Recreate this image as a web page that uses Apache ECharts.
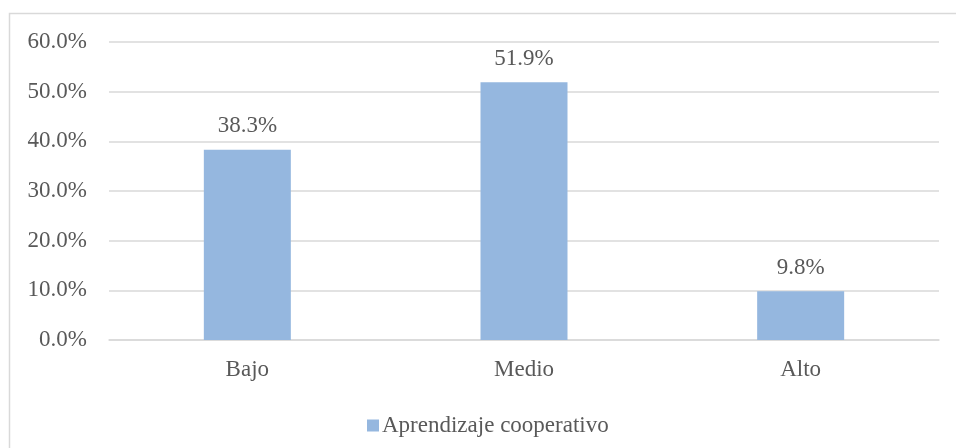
<!DOCTYPE html>
<html>
<head>
<meta charset="utf-8">
<script src="https://cdn.jsdelivr.net/npm/echarts@6/dist/echarts.min.js"></script>
<style>
  * { margin: 0; padding: 0; }
  body { background: #fff; }
  #main { width: 956px; height: 448px; }
</style>
</head>
<body>
<div id="main"></div>
<script>
  // datos
  var categorias = ['Bajo', 'Medio', 'Alto'];
  var valores = [38.3, 51.9, 9.8];
  var serieNombre = 'Aprendizaje cooperativo';

  var fuente = 'Liberation Serif, Times New Roman, serif';
  var gris = '#595959';

  var chart = echarts.init(document.getElementById('main'));
  chart.setOption({
    animation: false,
    textStyle: { fontFamily: fuente },
    graphic: [{
      type: 'rect',
      shape: { x: 9.5, y: 13.5, width: 1000, height: 1000 },
      style: { fill: 'none', stroke: '#D9D9D9', lineWidth: 1.5 },
      silent: true
    }],
    grid: { left: 109, right: 17, top: 42, bottom: 108 },
    legend: {
      data: [serieNombre],
      top: 409,
      left: 362,
      icon: 'rect',
      itemWidth: 12,
      itemHeight: 12,
      itemGap: 4,
      textStyle: { fontFamily: fuente, fontSize: 23, color: gris, padding: [0, 0, 0, -2] }
    },
    xAxis: {
      type: 'category',
      data: categorias,
      axisLine: { show: true, lineStyle: { color: '#D9D9D9', width: 1.5 } },
      axisTick: { show: false },
      axisLabel: { fontFamily: fuente, fontSize: 23, color: gris, margin: 18 }
    },
    yAxis: {
      type: 'value',
      min: 0,
      max: 60,
      interval: 10,
      axisLine: { show: false },
      axisTick: { show: false },
      splitLine: { lineStyle: { color: '#D9D9D9', width: 1.5 } },
      axisLabel: {
        fontFamily: fuente, fontSize: 23, color: gris, margin: 22,
        formatter: function (v) { return v.toFixed(1) + '%'; }
      }
    },
    series: [{
      name: serieNombre,
      type: 'bar',
      data: valores,
      barWidth: 87,
      itemStyle: { color: '#95B7DF' },
      label: {
        show: true,
        position: 'top',
        distance: 12,
        fontFamily: fuente,
        fontSize: 23,
        color: gris,
        formatter: function (p) { return p.value.toFixed(1) + '%'; }
      }
    }]
  });
</script>
</body>
</html>
